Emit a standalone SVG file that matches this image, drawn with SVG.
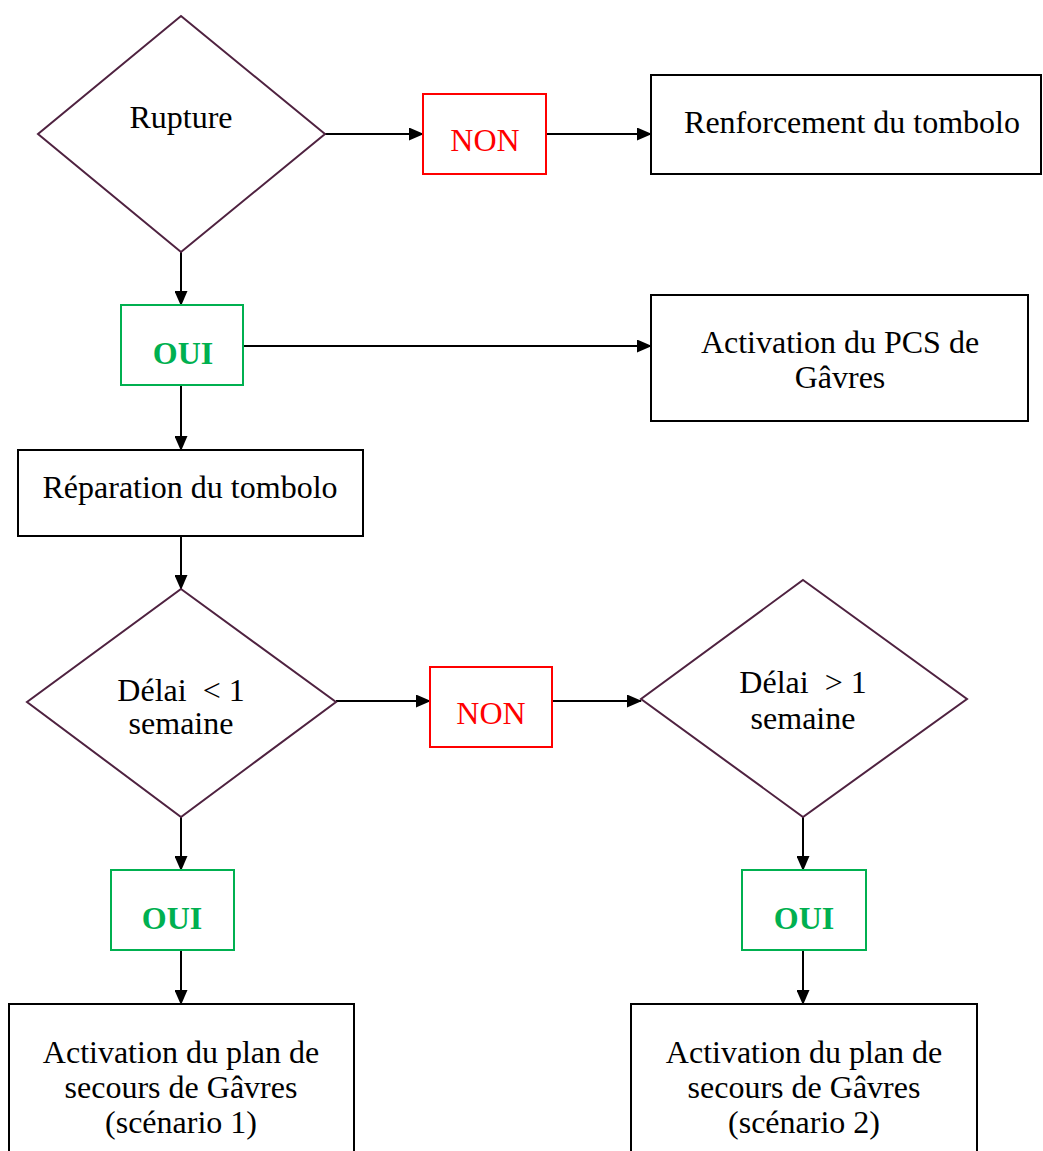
<svg xmlns="http://www.w3.org/2000/svg" width="1043" height="1151" viewBox="0 0 1043 1151">
<style>
text{font-family:"Liberation Serif","Times New Roman",serif;font-size:32px;text-anchor:middle;fill:#000;white-space:pre}
.dia{fill:#fff;stroke:#4f2240;stroke-width:2}
.box{fill:#fff;stroke:#000;stroke-width:2}
.non{fill:#fff;stroke:#ff0000;stroke-width:2}
.oui{fill:#fff;stroke:#00b050;stroke-width:2}
.tn{fill:#ff0000}
.to{fill:#00b050;font-weight:bold}
.c{fill:none;stroke:#000;stroke-width:2}
</style>
<defs>
<marker id="ah" markerUnits="userSpaceOnUse" markerWidth="15" markerHeight="13" refX="14" refY="6.5" orient="auto">
<path d="M0,0 L15,6.5 L0,13 Z" fill="#000"/>
</marker>
</defs>
<g id="connectors">
<line class="c" x1="325" y1="134" x2="423" y2="134" marker-end="url(#ah)"/>
<line class="c" x1="546" y1="134" x2="651" y2="134" marker-end="url(#ah)"/>
<line class="c" x1="181" y1="252" x2="181" y2="305" marker-end="url(#ah)"/>
<line class="c" x1="243" y1="346" x2="651" y2="346" marker-end="url(#ah)"/>
<line class="c" x1="181" y1="385" x2="181" y2="450" marker-end="url(#ah)"/>
<line class="c" x1="181" y1="536" x2="181" y2="589" marker-end="url(#ah)"/>
<line class="c" x1="336" y1="701" x2="430" y2="701" marker-end="url(#ah)"/>
<line class="c" x1="552" y1="701" x2="641" y2="701" marker-end="url(#ah)"/>
<line class="c" x1="181" y1="817" x2="181" y2="870" marker-end="url(#ah)"/>
<line class="c" x1="181" y1="950" x2="181" y2="1004" marker-end="url(#ah)"/>
<line class="c" x1="803" y1="817" x2="803" y2="870" marker-end="url(#ah)"/>
<line class="c" x1="803" y1="950" x2="803" y2="1004" marker-end="url(#ah)"/>
</g>
<g id="rupture">
<polygon class="dia" points="181,16 325,134 181,252 38,134"/>
<text x="181" y="128">Rupture</text>
</g>
<g id="non1">
<rect class="non" x="423" y="94" width="123" height="80"/>
<text class="tn" x="485" y="151">NON</text>
</g>
<g id="renforcement">
<rect class="box" x="651" y="75" width="390" height="99"/>
<text x="852" y="133">Renforcement du tombolo</text>
</g>
<g id="oui1">
<rect class="oui" x="121" y="305" width="122" height="80"/>
<text class="to" x="183" y="364">OUI</text>
</g>
<g id="pcs">
<rect class="box" x="651" y="295" width="377" height="126"/>
<text x="840" y="353">Activation du PCS de</text>
<text x="840" y="388">Gâvres</text>
</g>
<g id="reparation">
<rect class="box" x="18" y="450" width="345" height="86"/>
<text x="190" y="498">Réparation du tombolo</text>
</g>
<g id="delai1">
<polygon class="dia" points="181,589 336,702 181,817 27,702"/>
<text x="181" y="701">Délai  &lt; 1</text>
<text x="181" y="734">semaine</text>
</g>
<g id="non2">
<rect class="non" x="430" y="667" width="122" height="80"/>
<text class="tn" x="491" y="724">NON</text>
</g>
<g id="delai2">
<polygon class="dia" points="803,580 967,699 803,817 641,699"/>
<text x="803" y="693">Délai  &gt; 1</text>
<text x="803" y="729">semaine</text>
</g>
<g id="oui2">
<rect class="oui" x="111" y="870" width="123" height="80"/>
<text class="to" x="172" y="929">OUI</text>
</g>
<g id="oui3">
<rect class="oui" x="742" y="870" width="124" height="80"/>
<text class="to" x="804" y="929">OUI</text>
</g>
<g id="scenario1">
<rect class="box" x="9" y="1004" width="345" height="160"/>
<text x="181" y="1063">Activation du plan de</text>
<text x="181" y="1098">secours de Gâvres</text>
<text x="181" y="1133">(scénario 1)</text>
</g>
<g id="scenario2">
<rect class="box" x="631" y="1004" width="346" height="160"/>
<text x="804" y="1063">Activation du plan de</text>
<text x="804" y="1098">secours de Gâvres</text>
<text x="804" y="1133">(scénario 2)</text>
</g>
</svg>
